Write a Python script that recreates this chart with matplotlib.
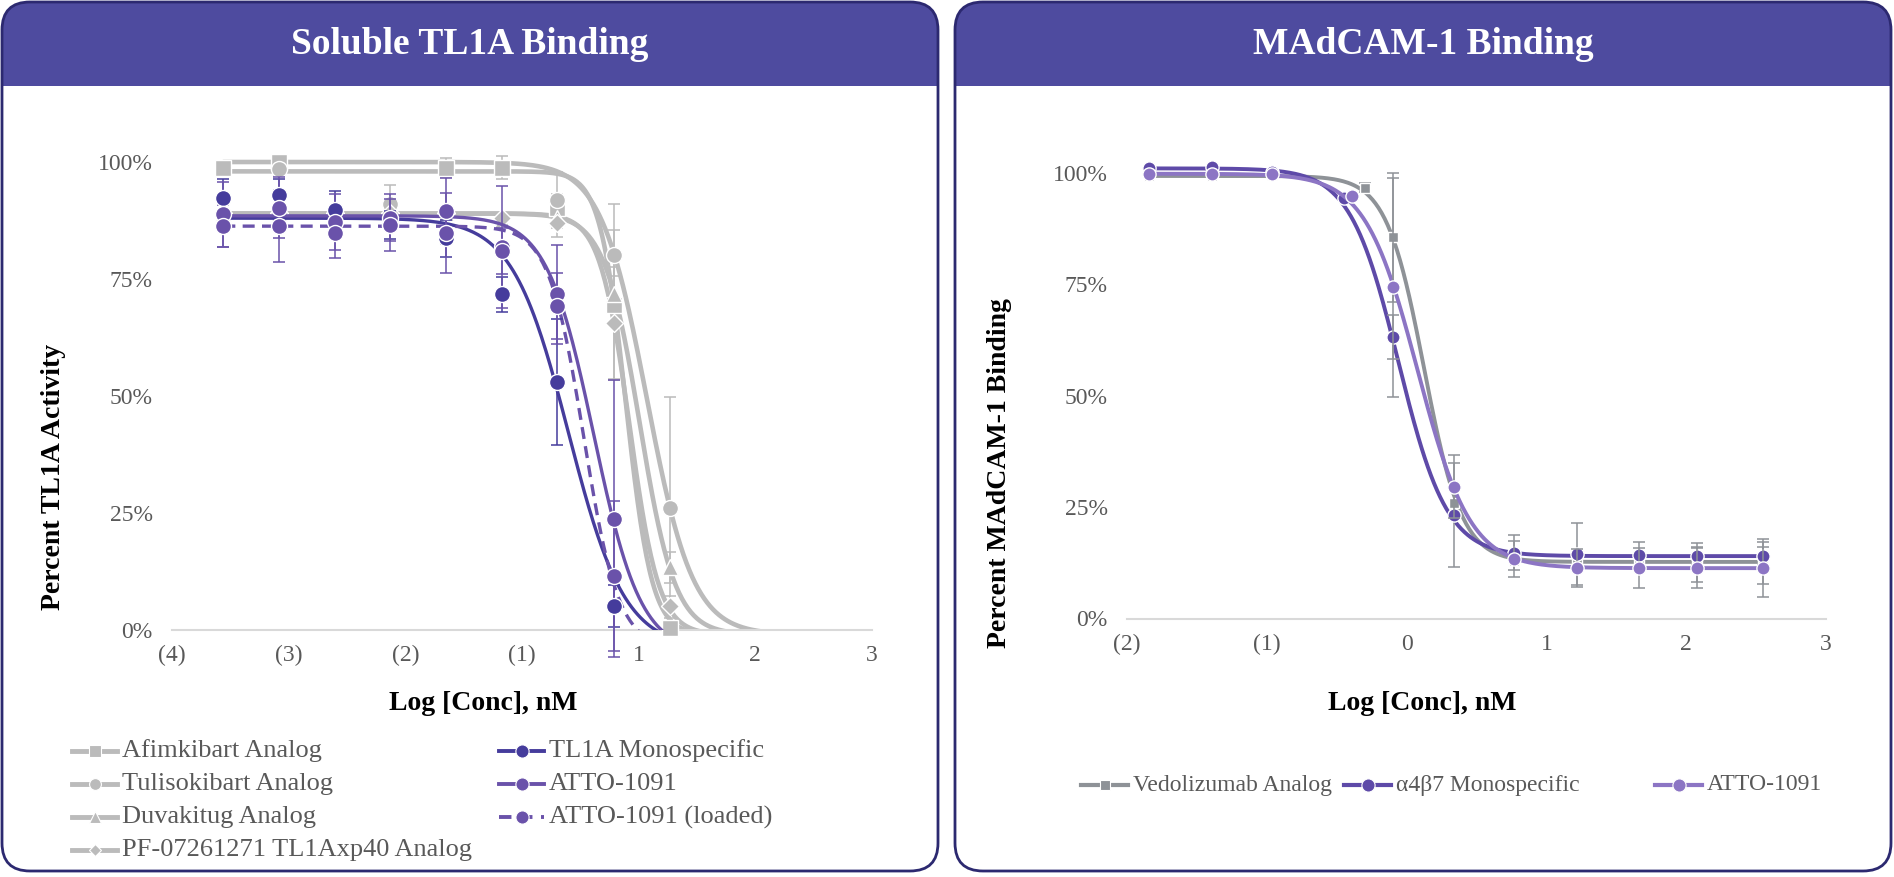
import numpy as np
import matplotlib.pyplot as plt
from matplotlib.patches import FancyBboxPatch, Rectangle
from matplotlib.lines import Line2D

plt.rcParams['font.family'] = ['Liberation Serif', 'DejaVu Serif']

W, H = 1894, 877

# ---------------- left panel: soluble TL1A binding ----------------
tl1a_x = [-3.06, -2.58, -2.10, -1.63, -1.15, -0.67, -0.20, 0.29, 0.77]
tl1a_ticks = [-3.5, -2.5, -1.5, -0.5, 0.5, 1.5, 2.5]
tl1a_ticklabels = ["(4)", "(3)", "(2)", "(1)", "1", "2", "3"]

afim_y = [98.8, 100.0, np.nan, np.nan, 98.8, 98.8, 90.1, 69.4, 0.4]
afim_err = [0, 0, 1.5, 3.0, 2.0, 2.5, 3.0, 16.0, 0]
tuli_y = [np.nan, 98.5, np.nan, 91.0, np.nan, np.nan, 91.8, 80.1, 26.1]
tuli_err = [0, 1.5, 0, 4.0, 0, 0, 6.0, 11.0, 23.6]
duva_y = [89.0, 89.0, 89.0, 89.0, 89.0, 87.7, 88.0, 71.7, 13.4]
duva_err = [0, 0, 0, 0, 0, 0, 0, 4.0, 3.3]
pf_y = [89.0, 89.0, 89.0, 89.0, 89.0, 88.0, 87.0, 65.6, 5.2]
pf_err = [0, 0, 0, 0, 0, 0, 3.0, 12.0, 2.0]

mono_y = [92.4, 92.9, 89.7, 86.5, 83.7, 71.7, 53.0, 5.2, np.nan]
mono_err = [4.0, 3.5, 4.0, 3.0, 4.0, 3.7, 13.5, 4.5, 0]
atto_y = [88.8, 90.2, 87.2, 88.1, 89.5, 81.9, 71.7, 23.8, np.nan]
atto_err = [7.0, 6.5, 6.0, 5.0, 7.0, 13.0, 10.5, 29.6, 0]
loaded_y = [86.3, 86.3, 84.8, 86.5, 84.8, 81.0, 69.2, 11.5, np.nan]
loaded_err = [4.5, 7.7, 5.4, 5.5, 8.6, 5.0, 7.0, 16.0, 0]

# 4PL fits: top, bottom, log IC50, hill
afim_fit = (98.0, -1.0, 0.39, 3.9)
tuli_fit = (100.0, -1.0, 0.57, 2.2)
duva_fit = (89.0, -1.0, 0.51, 2.85)
pf_fit = (89.0, -1.0, 0.42, 3.45)
mono_fit = (88.0, -4.0, -0.10, 1.8)
atto_fit = (88.5, -5.0, 0.115, 2.15)
loaded_fit = (86.3, -4.0, 0.03, 2.9)

# ---------------- right panel: MAdCAM-1 binding ----------------
madcam_ticks = [-2, -1, 0, 1, 2, 3]
madcam_ticklabels = ["(2)", "(1)", "0", "1", "2", "3"]

vedo_x = [-1.84, -1.39, -0.96, -0.30, -0.10, 0.34, 0.77, 1.22, 1.66, 2.08, 2.55]
vedo_y = [99.3, 99.3, 99.5, 96.7, 85.5, 26.0, 12.8, 12.7, 12.6, 12.6, 12.5]
vedo_err = [0, 0, 0, 1.0, 14.4, 0, 0, 0, 0, 4.3, 4.7]
a4b7_x = [-1.84, -1.39, -0.96, -0.45, -0.10, 0.34, 0.77, 1.22, 1.66, 2.08, 2.55]
a4b7_y = [101.0, 101.2, 100.3, 94.3, 63.2, 23.2, 14.8, 14.5, 14.2, 14.0, 14.0]
a4b7_err = [0, 0, 0, 0, 5.0, 11.6, 3.9, 7.0, 3.0, 2.0, 2.0]
atto2_x = [-1.84, -1.39, -0.96, -0.39, -0.10, 0.34, 0.77, 1.22, 1.66, 2.08, 2.55]
atto2_y = [99.7, 99.7, 99.8, 94.8, 74.3, 29.6, 13.3, 11.3, 11.3, 11.3, 11.3]
atto2_err = [0, 0, 0, 0, 24.5, 7.1, 4.1, 4.3, 4.5, 4.5, 6.5]

vedo_fit = (99.3, 12.7, 0.126, 3.2)
a4b7_fit = (101.0, 14.0, -0.058, 2.5)
atto2_fit = (99.8, 11.3, 0.08, 2.3)

# colours
grey_l = "#BBBBBB"
navy = "#453C9C"
purple = "#6A52AA"
grey_r = "#8E9297"
purple_r = "#5E4AA8"
lilac_r = "#8C75C4"
header = "#4E4B9F"
frame = "#2C2970"
txt = "#595959"


def fourpl(x, p):
    top, bot, c, h = p
    return bot + (top - bot) / (1 + 10 ** ((x - c) * h))


def px(x, y):
    return x / W, 1 - y / H


def draw(ax, x, y, err, fit, color, marker, ms, lw, xr, ls='-', ecolor=None, z=2):
    xs = np.linspace(xr[0], xr[1], 400)
    ax.plot(xs, fourpl(xs, fit), color=color, lw=lw, ls=ls, zorder=z,
            solid_capstyle='round')
    x = np.array(x)
    y = np.array(y)
    err = np.array(err, dtype=float)
    m = err > 0
    if m.any():
        eb = ax.errorbar(x[m], y[m], yerr=err[m], fmt='none',
                         ecolor=ecolor or color, elinewidth=1.1, capsize=4,
                         capthick=1.1, zorder=z + 0.5)
        for a in eb.lines[1] + eb.lines[2]:
            a.set_clip_on(False)
    ax.plot(x, y, ls='none', marker=marker, ms=ms, mfc=color, mec='white',
            mew=1, clip_on=False, zorder=z + 1)


fig = plt.figure(figsize=(W / 100, H / 100), dpi=100)

# background: panels and headers in pixel coordinates
bg = fig.add_axes([0, 0, 1, 1])
bg.set_xlim(0, W)
bg.set_ylim(H, 0)
bg.axis('off')

for x0, x1, title in [(2, 938, "Soluble TL1A Binding"), (955, 1891, "MAdCAM-1 Binding")]:
    r = 28
    bg.add_patch(FancyBboxPatch((x0, 2), x1 - x0, 869, boxstyle=f"round,pad=0,rounding_size={r}",
                                fc=header, ec='none', zorder=0))
    bg.add_patch(FancyBboxPatch((x0, 86), x1 - x0, 785, boxstyle=f"round,pad=0,rounding_size={r}",
                                fc='white', ec='none', zorder=0.5))
    bg.add_patch(Rectangle((x0, 86), x1 - x0, r + 2, fc='white', ec='none', zorder=0.6))
    bg.add_patch(FancyBboxPatch((x0, 2), x1 - x0, 869, boxstyle=f"round,pad=0,rounding_size={r}",
                                fc='none', ec=frame, lw=2, zorder=1))
    bg.text((x0 + x1) / 2, 45, title, color='white', fontsize=27, fontweight='bold',
            ha='center', va='center')

# ---------------- left axes ----------------
axL = fig.add_axes([172 / W, 1 - 630 / H, 700 / W, 491.4 / H])
axL.set_facecolor('none')
rng = (tl1a_x[0], 2.0)
draw(axL, tl1a_x, afim_y, afim_err, afim_fit, grey_l, 's', 11.5, 3.3, rng, z=2)
draw(axL, tl1a_x, tuli_y, tuli_err, tuli_fit, grey_l, 'o', 11.5, 3.3, rng, z=2)
draw(axL, tl1a_x, duva_y, duva_err, duva_fit, grey_l, '^', 11.5, 3.3, rng, z=2)
draw(axL, tl1a_x, pf_y, pf_err, pf_fit, grey_l, 'D', 9, 3.3, rng, z=2)
draw(axL, tl1a_x, mono_y, mono_err, mono_fit, navy, 'o', 11.5, 2.4, rng, z=5)
draw(axL, tl1a_x, atto_y, atto_err, atto_fit, purple, 'o', 11.5, 2.4, rng, z=5)
draw(axL, tl1a_x, loaded_y, loaded_err, loaded_fit, purple, 'o', 11.5, 2.4, rng,
     ls=(0, (3.6, 2.2)), z=5)
axL.set_xlim(-3.5, 2.5)
axL.set_ylim(0, 105)
axL.set_xticks(tl1a_ticks)
axL.set_xticklabels(tl1a_ticklabels)

# ---------------- right axes ----------------
axR = fig.add_axes([1127 / W, 1 - 618.5 / H, 699 / W, 472.4 / H])
axR.set_facecolor('none')
rngR = (vedo_x[0], vedo_x[-1])
draw(axR, vedo_x, vedo_y, vedo_err, vedo_fit, grey_r, 's', 7.5, 2.8, rngR, ecolor=grey_r, z=2)
draw(axR, a4b7_x, a4b7_y, a4b7_err, a4b7_fit, purple_r, 'o', 9.5, 2.8, rngR, ecolor=grey_r, z=4)
draw(axR, atto2_x, atto2_y, atto2_err, atto2_fit, lilac_r, 'o', 9.5, 2.8, rngR, ecolor=grey_r, z=6)
axR.set_xlim(-2, 3)
axR.set_ylim(0, 106)
axR.set_xticks(madcam_ticks)
axR.set_xticklabels(madcam_ticklabels)

for ax in (axL, axR):
    for s in ('left', 'right', 'top'):
        ax.spines[s].set_visible(False)
    ax.spines['bottom'].set_color('#D9D9D9')
    ax.spines['bottom'].set_linewidth(1.5)
    ax.set_yticks([0, 25, 50, 75, 100])
    ax.set_yticklabels(["0%", "25%", "50%", "75%", "100%"])
    ax.tick_params(axis='both', length=0, labelsize=17, colors=txt)
    ax.tick_params(axis='x', pad=11)
    ax.tick_params(axis='y', pad=14)

# axis titles
fig.text(*px(54, 477), "Percent TL1A Activity", rotation=90, fontsize=20,
         fontweight='bold', ha='center', va='center')
fig.text(*px(483, 703), "Log [Conc], nM", fontsize=20, fontweight='bold',
         ha='center', va='center')
fig.text(*px(999, 473), "Percent MAdCAM-1 Binding", rotation=90, fontsize=20,
         fontweight='bold', ha='center', va='center')
fig.text(*px(1422, 703), "Log [Conc], nM", fontsize=20, fontweight='bold',
         ha='center', va='center')

# legends drawn by hand in pixel coordinates
def key(x0, length, y, label, color, marker, ms, lw, ls='-', size=19):
    bg.add_line(Line2D([x0, x0 + length], [y, y], color=color, lw=lw, ls=ls,
                       marker=None, zorder=3))
    bg.add_line(Line2D([x0 + length / 2], [y], ls='none', marker=marker, ms=ms,
                       mfc=color, mec='white', mew=0.8, zorder=4))
    bg.text(x0 + length + 5, y, label, fontsize=size, color=txt, va='center', ha='left')


left_keys = [
    (72, 751, "Afimkibart Analog", grey_l, 's', 8.5, 3.5, '-'),
    (72, 784, "Tulisokibart Analog", grey_l, 'o', 8.5, 3.5, '-'),
    (72, 817, "Duvakitug Analog", grey_l, '^', 8.5, 3.5, '-'),
    (72, 850, "PF-07261271 TL1Axp40 Analog", grey_l, 'D', 6.5, 3.5, '-'),
    (499, 751, "TL1A Monospecific", navy, 'o', 9.5, 2.8, '-'),
    (499, 784, "ATTO-1091", purple, 'o', 9.5, 2.8, '-'),
    (499, 817, "ATTO-1091 (loaded)", purple, 'o', 9.5, 2.8, (0, (3.2, 2.2))),
]
for x0, y, lab, c, m, ms, lw, ls in left_keys:
    key(x0, 45, y, lab, c, m, ms, lw, ls, size=19)

right_keys = [
    (1081, "Vedolizumab Analog", grey_r, 's', 7),
    (1344, "\u03b14\u03b27 Monospecific", purple_r, 'o', 9.5),
    (1655, "ATTO-1091", lilac_r, 'o', 9.5),
]
for x0, lab, c, m, ms in right_keys:
    key(x0, 47, 785, lab, c, m, ms, 3.0, size=17)

fig.savefig("out.png", dpi=100)
